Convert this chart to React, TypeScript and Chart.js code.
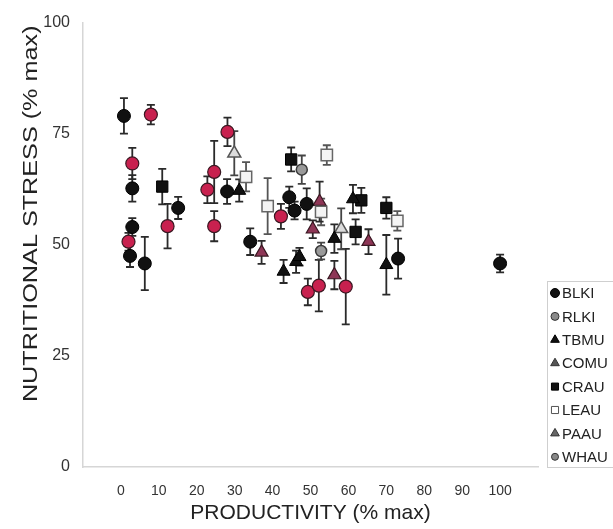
import React, { useEffect, useRef } from "react";
import { Chart, registerables } from "chart.js";
import { drawPoint } from "chart.js/helpers";

Chart.register(...registerables);

// [productivity %max, nutritional stress %max, error]
const BLKI = [[0.8, 79, 4], [3, 62.7, 3], [15.1, 58.3, 2.5], [3, 54, 2], [2.4, 47.5, 2.5], [6.3, 45.8, 6], [28, 62, 2.8], [34.1, 50.7, 3], [44.4, 60.7, 2.4], [45.8, 57.7, 2], [49, 59.2, 3.5], [73.1, 46.9, 4.5], [100, 45.8, 2]];
const RLKI = [[7.9, 79.3, 2.2], [3, 68.3, 3.5], [12.3, 54.2, 5], [2, 50.7, 2], [28.1, 75.4, 3.2], [24.6, 66.4, 7], [22.8, 62.4, 3], [24.6, 54.2, 3.4], [42.2, 56.4, 2.8], [49.3, 39.4, 3], [52.2, 40.8, 5.8], [59.3, 40.6, 8.5]];
const TBMU = [[31.2, 62.2, 2.5], [42.9, 44, 2.6], [46.2, 46.2, 2.5], [47.1, 47.3, 2], [56.3, 51.4, 3.2], [61.2, 60.3, 3.2], [70, 45.5, 6.7]];
const COMU = [[29.9, 70.6, 5], [58.1, 53.6, 4.6]];
const CRAU = [[10.9, 63.1, 4], [44.9, 69.2, 2.7], [63.4, 60, 2.8], [61.9, 52.9, 2.8], [70, 58.3, 2.4]];
const LEAU = [[33, 65.3, 3.3], [38.7, 58.7, 6.3], [54.3, 70.2, 2.2], [52.8, 57.4, 3], [72.9, 55.4, 2.2]];
const PAAU = [[37.1, 48.3, 2.6], [52.4, 59.7, 4.5], [50.6, 53.5, 2], [56.3, 43.2, 3.2], [65.3, 50.7, 2.8]];
const WHAU = [[47.7, 66.9, 3.2], [52.8, 48.6, 1.9]];

const SPECIES = ["BLKI", "RLKI", "TBMU", "COMU", "CRAU", "LEAU", "PAAU", "WHAU"];
const VALUES = [BLKI, RLKI, TBMU, COMU, CRAU, LEAU, PAAU, WHAU];
const X_TICKS = [0, 10, 20, 30, 40, 50, 60, 70, 80, 90, 100];
const Y_TICKS = [0, 25, 50, 75, 100];
const X_TITLE = "PRODUCTIVITY (% max)";
const Y_TITLE = "NUTRITIONAL STRESS (% max)";

const FONT = "Arial, 'Liberation Sans', sans-serif";

const STYLES = [
  { style: "circle", r: 6.5, fill: "#111111", stroke: "#000000", bw: 1, err: "#2a2a2a", lfill: "#111111", lstroke: "#000000", lr: 4.5 },
  { style: "circle", r: 6.5, fill: "#c8214f", stroke: "#3a1822", bw: 1.2, err: "#2a2a2a", lfill: "#8a8a8a", lstroke: "#333333", lr: 4 },
  { style: "triangle", r: 7.5, fill: "#111111", stroke: "#000000", bw: 1, err: "#2a2a2a", lfill: "#111111", lstroke: "#000000", lr: 5 },
  { style: "triangle", r: 7.5, fill: "#dcdcdc", stroke: "#555555", bw: 1.5, err: "#444444", lfill: "#555555", lstroke: "#333333", lr: 5 },
  { style: "rect", r: 8, fill: "#111111", stroke: "#000000", bw: 1, err: "#2a2a2a", lfill: "#111111", lstroke: "#000000", lr: 5 },
  { style: "rect", r: 8, fill: "#f4f4f4", stroke: "#666666", bw: 1.5, err: "#555555", lfill: "#ffffff", lstroke: "#555555", lr: 5 },
  { style: "triangle", r: 7.5, fill: "#8e3656", stroke: "#3a1822", bw: 1.2, err: "#2a2a2a", lfill: "#666666", lstroke: "#333333", lr: 5 },
  { style: "circle", r: 5.5, fill: "#9a9a9a", stroke: "#3a3a3a", bw: 1.5, err: "#444444", lfill: "#888888", lstroke: "#333333", lr: 3.5 },
];

const errorBars = {
  id: "errorBars",
  beforeDatasetsDraw(chart: any) {
    const ctx = chart.ctx;
    const ys = chart.scales.y;
    chart.data.datasets.forEach((ds: any, i: number) => {
      const meta = chart.getDatasetMeta(i);
      ctx.save();
      ctx.strokeStyle = STYLES[i].err;
      ctx.lineWidth = 1.8;
      meta.data.forEach((pt: any, j: number) => {
        const d = ds.data[j];
        const yt = ys.getPixelForValue(d.y + d.e);
        const yb = ys.getPixelForValue(d.y - d.e);
        const x = pt.x;
        ctx.beginPath();
        ctx.moveTo(x, yt);
        ctx.lineTo(x, yb);
        ctx.moveTo(x - 4, yt);
        ctx.lineTo(x + 4, yt);
        ctx.moveTo(x - 4, yb);
        ctx.lineTo(x + 4, yb);
        ctx.stroke();
      });
      ctx.restore();
    });
  },
};

const yTitle = {
  id: "yTitle",
  afterDraw(chart: any) {
    const ctx = chart.ctx;
    const ca = chart.chartArea;
    ctx.save();
    ctx.translate(31, (ca.top + ca.bottom) / 2 - 31);
    ctx.rotate(-Math.PI / 2);
    ctx.scale(1.2, 1);
    ctx.font = `21px ${FONT}`;
    ctx.fillStyle = "#222222";
    ctx.textAlign = "center";
    ctx.textBaseline = "middle";
    ctx.fillText(Y_TITLE, 0, 0);
    ctx.restore();
  },
};

const customLegend = {
  id: "customLegend",
  afterDraw(chart: any) {
    const ctx = chart.ctx;
    const left = chart.chartArea.right + 9;
    const top = 281;
    const rowH = 23.4;
    ctx.save();
    ctx.strokeStyle = "#cfcfcf";
    ctx.lineWidth = 1;
    ctx.strokeRect(left + 0.5, top + 0.5, 80, 186);
    ctx.font = `15px ${FONT}`;
    ctx.textBaseline = "middle";
    ctx.textAlign = "left";
    SPECIES.forEach((name, i) => {
      const s = STYLES[i];
      const y = top + 12 + i * rowH;
      ctx.fillStyle = s.lfill;
      ctx.strokeStyle = s.lstroke;
      ctx.lineWidth = 1;
      drawPoint(ctx, { pointStyle: s.style, rotation: 0, radius: s.lr, borderWidth: 1 }, left + 8, y);
      ctx.fillStyle = "#222222";
      ctx.fillText(name, left + 15, y + 1);
    });
    ctx.restore();
  },
};

export default function App() {
  const ref = useRef<HTMLCanvasElement>(null);
  useEffect(() => {
    if (!ref.current) return;
    const chart = new Chart(ref.current, {
      type: "scatter",
      data: {
        datasets: SPECIES.map((name, i) => ({
          label: name,
          data: VALUES[i].map(([x, y, e]) => ({ x, y, e })),
          pointStyle: STYLES[i].style,
          pointRadius: STYLES[i].r,
          backgroundColor: STYLES[i].fill,
          borderColor: STYLES[i].stroke,
          borderWidth: STYLES[i].bw,
        })),
      } as any,
      options: {
        animation: false,
        responsive: false,
        layout: { padding: { top: 20, right: 75, left: 0, bottom: 0 } },
        plugins: { legend: { display: false }, tooltip: { enabled: false } },
        scales: {
          x: {
            type: "linear",
            min: -10,
            max: 110,
            afterBuildTicks: (s: any) => {
              s.ticks = X_TICKS.map((v) => ({ value: v }));
            },
            afterFit: (s: any) => {
              s.height = 62;
            },
            ticks: { padding: 16, color: "#333333", font: { family: FONT, size: 14 } },
            grid: { display: false, drawTicks: false },
            border: { display: true, color: "#d6d6d6", width: 1.5 },
            title: {
              display: true,
              text: X_TITLE,
              color: "#222222",
              font: { family: FONT, size: 21 },
              padding: { top: 0, bottom: 3 },
            },
          },
          y: {
            type: "linear",
            min: 0,
            max: 100,
            afterBuildTicks: (s: any) => {
              s.ticks = Y_TICKS.map((v) => ({ value: v }));
            },
            afterFit: (s: any) => {
              s.width = 83;
            },
            ticks: { padding: 13, color: "#333333", font: { family: FONT, size: 16 } },
            grid: { display: false, drawTicks: false },
            border: { display: true, color: "#d6d6d6", width: 1.5 },
            title: { display: false },
          },
        },
      } as any,
      plugins: [errorBars, yTitle, customLegend],
    });
    return () => chart.destroy();
  }, []);
  return (
    <div style={{ position: "fixed", left: 0, top: 0, width: 613, height: 529, background: "#fff" }}>
      <canvas ref={ref} width={613} height={529} />
    </div>
  );
}
